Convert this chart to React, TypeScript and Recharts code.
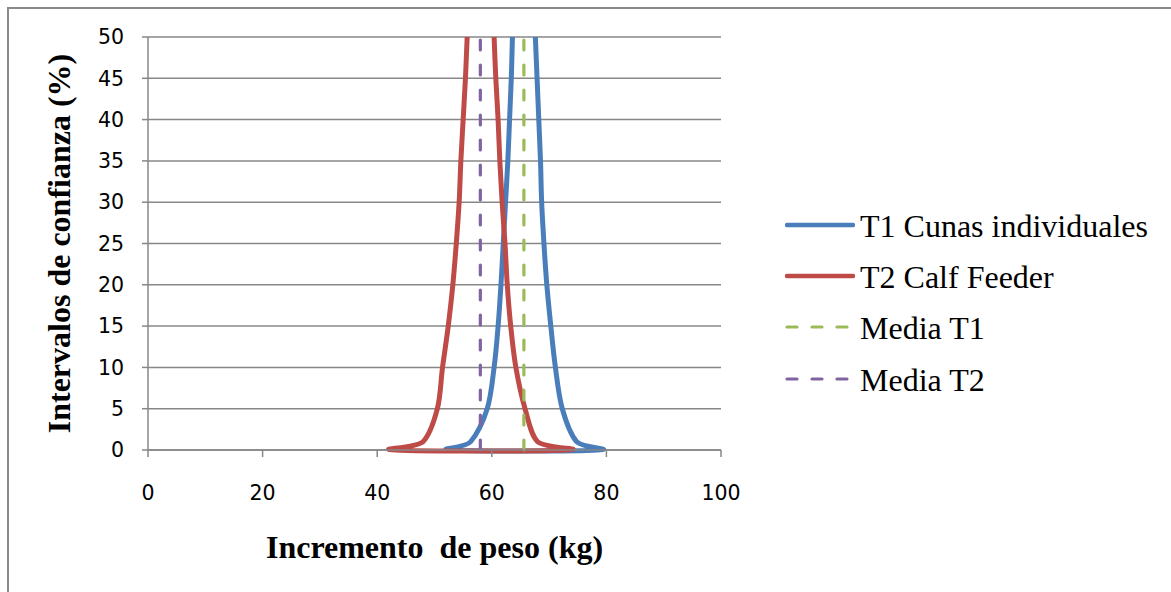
import React from "react";
import { LineChart, Line, XAxis, YAxis, CartesianGrid } from "recharts";

// Confidence levels (%) along each branch of the interval curves, from top to bottom
const LEVELS = [50, 45, 40, 35, 30, 25, 20, 15, 10, 5, 1, 0];
// T1 Cunas individuales: lower and upper bounds (kg) at each level
const T1_LOWER = [63.6, 63.4, 63.1, 62.8, 62.4, 62.0, 61.6, 61.1, 60.4, 59.2, 56.3, 53.2];
const T1_UPPER = [67.6, 67.9, 68.2, 68.5, 68.7, 69.1, 69.6, 70.3, 71.1, 72.3, 74.8, 78.4];
// T2 Calf Feeder: lower and upper bounds (kg) at each level
const T2_LOWER = [55.7, 55.4, 55.0, 54.6, 54.3, 53.8, 53.2, 52.4, 51.4, 50.5, 48.0, 43.2];
const T2_UPPER = [60.4, 60.7, 61.1, 61.4, 61.8, 62.3, 62.7, 63.3, 64.2, 65.8, 68.0, 73.0];
// Means
const MEAN_T1 = 65.6;
const MEAN_T2 = 58.0;
const MEAN_RANGE = [0, 50];

const X_TICKS = [0, 20, 40, 60, 80, 100];
const Y_TICKS = [0, 5, 10, 15, 20, 25, 30, 35, 40, 45, 50];

const SERIES = [
  { name: "T1 Cunas individuales", color: "#4A7EBB", dashed: false },
  { name: "T2 Calf Feeder", color: "#BE4B48", dashed: false },
  { name: "Media T1", color: "#9BBB59", dashed: true },
  { name: "Media T2", color: "#8064A2", dashed: true },
];

const X_TITLE = "Incremento  de peso (kg)";
const Y_TITLE = "Intervalos de confianza (%)";

function funnel(lower: number[], upper: number[]) {
  const left = LEVELS.map((y, i) => ({ x: lower[i], y }));
  const right = LEVELS.map((y, i) => ({ x: upper[i], y })).reverse();
  return [...left, ...right];
}
function vline(x: number) {
  return MEAN_RANGE.map((y) => ({ x, y }));
}

const t1Data = funnel(T1_LOWER, T1_UPPER);
const t2Data = funnel(T2_LOWER, T2_UPPER);
const m1Data = vline(MEAN_T1);
const m2Data = vline(MEAN_T2);

// Smoothed curve (Catmull-Rom style, similar to spreadsheet smoothing)
const smoothCurve: any = (context: any) => {
  let pts: number[][] = [];
  return {
    areaStart() {},
    areaEnd() {},
    lineStart() {
      pts = [];
    },
    point(x: number, y: number) {
      pts.push([+x, +y]);
    },
    lineEnd() {
      if (!pts.length) return;
      context.moveTo(pts[0][0], pts[0][1]);
      for (let i = 0; i < pts.length - 1; i++) {
        const p0 = pts[Math.max(0, i - 1)];
        const p1 = pts[i];
        const p2 = pts[i + 1];
        const p3 = pts[Math.min(pts.length - 1, i + 2)];
        context.bezierCurveTo(
          p1[0] + (p2[0] - p0[0]) / 6,
          p1[1] + (p2[1] - p0[1]) / 6,
          p2[0] - (p3[0] - p1[0]) / 6,
          p2[1] - (p3[1] - p1[1]) / 6,
          p2[0],
          p2[1]
        );
      }
    },
  };
};

const GRID = "#878787";
const TICK_FS = 20.5;
const TICK_FONT = {
  fontFamily: "DejaVu Sans",
  fontSize: TICK_FS,
  fill: "#000",
  style: { fontSize: TICK_FS, fontFamily: "DejaVu Sans" },
};
const TITLE_FONT = "Liberation Serif";

const YTitle = (props: any) => {
  const vb = props.viewBox || { x: 0, y: 0, height: 0 };
  const cy = vb.y + vb.height / 2;
  return (
    <text
      transform={`translate(70, ${cy}) rotate(-90)`}
      textAnchor="middle"
      fontFamily={TITLE_FONT}
      fontWeight="bold"
      fontSize={32}
      fill="#000"
    >
      {Y_TITLE}
    </text>
  );
};

const XTitle = (props: any) => {
  const vb = props.viewBox || { x: 0, y: 0, width: 0 };
  const cx = vb.x + vb.width / 2;
  return (
    <text
      x={cx}
      y={558}
      textAnchor="middle"
      fontFamily={TITLE_FONT}
      fontWeight="bold"
      fontSize={32}
      fill="#000"
      style={{ whiteSpace: "pre" }}
    >
      {X_TITLE}
    </text>
  );
};

export default function App() {
  return (
    <div
      style={{
        position: "fixed",
        left: 0,
        top: 0,
        width: 1171,
        height: 592,
        overflow: "hidden",
        background: "#fff",
      }}
    >
      <div
        style={{
          position: "absolute",
          left: 7,
          top: 7,
          width: 1200,
          height: 700,
          border: "2px solid #8a8a8a",
          boxSizing: "border-box",
        }}
      />
      <div style={{ position: "absolute", left: 0, top: 0 }}>
        <LineChart
          width={1171}
          height={592}
          margin={{ top: 37, right: 450, bottom: 0, left: 0 }}
        >
          <CartesianGrid vertical={false} stroke={GRID} strokeWidth={1.5} />
          <XAxis
            type="number"
            dataKey="x"
            domain={[0, 100]}
            ticks={X_TICKS}
            height={142}
            stroke={GRID}
            strokeWidth={1.5}
            tickSize={7}
            tickMargin={28}
            tick={TICK_FONT}
            fontSize={TICK_FS}
            fontFamily="DejaVu Sans"
            label={{ content: XTitle }}
            allowDataOverflow
          />
          <YAxis
            type="number"
            dataKey="y"
            domain={[0, 50]}
            ticks={Y_TICKS}
            width={148}
            stroke={GRID}
            strokeWidth={1.5}
            tickSize={6}
            tickMargin={18}
            tick={TICK_FONT}
            fontSize={TICK_FS}
            fontFamily="DejaVu Sans"
            label={{ content: YTitle }}
          />
          <Line
            data={t1Data}
            dataKey="y"
            name={SERIES[0].name}
            type={smoothCurve}
            stroke={SERIES[0].color}
            strokeWidth={5}
            dot={false}
            activeDot={false}
            isAnimationActive={false}
          />
          <Line
            data={t2Data}
            dataKey="y"
            name={SERIES[1].name}
            type={smoothCurve}
            stroke={SERIES[1].color}
            strokeWidth={5}
            dot={false}
            activeDot={false}
            isAnimationActive={false}
          />
          <Line
            data={m1Data}
            dataKey="y"
            name={SERIES[2].name}
            type="linear"
            stroke={SERIES[2].color}
            strokeWidth={3.2}
            strokeDasharray="10 15"
            strokeLinecap="round"
            dot={false}
            activeDot={false}
            isAnimationActive={false}
          />
          <Line
            data={m2Data}
            dataKey="y"
            name={SERIES[3].name}
            type="linear"
            stroke={SERIES[3].color}
            strokeWidth={3.2}
            strokeDasharray="10 15"
            strokeLinecap="round"
            dot={false}
            activeDot={false}
            isAnimationActive={false}
          />
        </LineChart>
      </div>
      <div style={{ position: "absolute", left: 785, top: 199 }}>
        {SERIES.map((s) => (
          <div
            key={s.name}
            style={{ display: "flex", alignItems: "center", height: 51.3 }}
          >
            <svg width={70} height={10} style={{ display: "block" }}>
              <line
                x1={2}
                y1={5}
                x2={68}
                y2={5}
                stroke={s.color}
                strokeWidth={s.dashed ? 3.2 : 4.5}
                strokeLinecap="round"
                strokeDasharray={s.dashed ? "10 15" : undefined}
              />
            </svg>
            <span
              style={{
                fontFamily: TITLE_FONT,
                fontSize: 32,
                marginLeft: 5,
                whiteSpace: "pre",
                lineHeight: "34px",
                marginTop: 2,
              }}
            >
              {s.name}
            </span>
          </div>
        ))}
      </div>
    </div>
  );
}
